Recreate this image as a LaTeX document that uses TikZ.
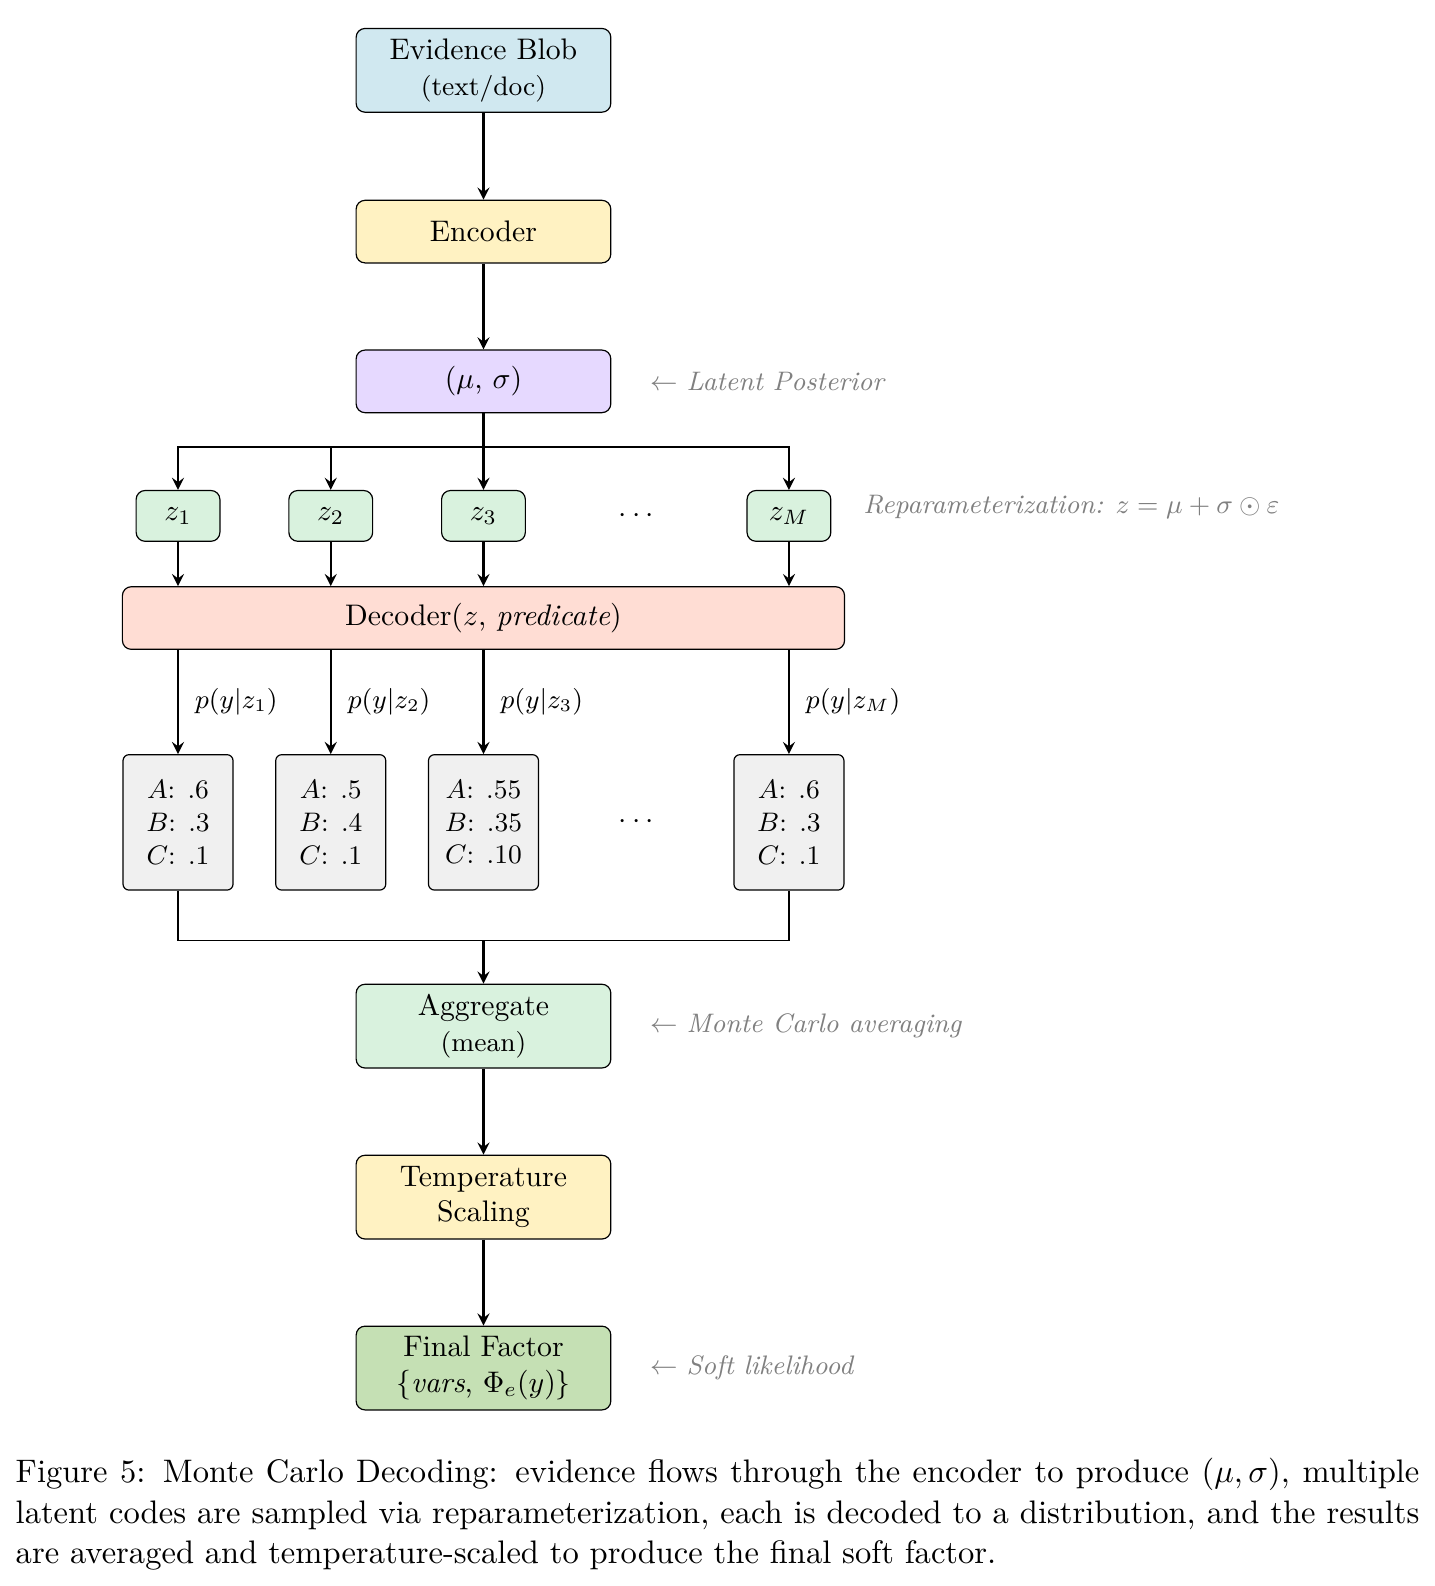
\documentclass[tikz,border=0pt]{standalone}
\usetikzlibrary{positioning,calc}
\definecolor{blobblue}{HTML}{D0E8F0}
\definecolor{encyellow}{HTML}{FFF2C2}
\definecolor{postviolet}{HTML}{E6D9FF}
\definecolor{codegreen}{HTML}{D9F2DE}
\definecolor{decsalmon}{HTML}{FFDDD4}
\definecolor{distgray}{HTML}{F0F0F0}
\definecolor{factorgreen}{HTML}{C5E0B4}
\begin{document}
\begin{tikzpicture}[>=stealth,
	box/.style={draw,rounded corners=3pt,align=center,inner sep=2pt,minimum width=3.01cm},
	tallbox/.style={box,minimum height=0.99cm},
	flatbox/.style={box,minimum height=0.74cm},
	zbox/.style={draw,rounded corners=3pt,fill=codegreen,minimum width=0.99cm,minimum height=0.6cm},
	distbox/.style={draw,rounded corners=2pt,fill=distgray,align=center,font=\small,minimum width=1.3cm,minimum height=1.6cm},
	note/.style={anchor=west,inner sep=0pt,text=gray,font=\small},
	flow/.style={->,thick}]
	\useasboundingbox (0,0) rectangle (16.951,-18.744);
	% main column
	\node[tallbox,fill=blobblue] (blob) at (5.714,-0.831) {Evidence Blob\\{\small(text/doc)}};
	\node[flatbox,fill=encyellow] (enc) at (5.714,-2.737) {Encoder};
	\node[flatbox,fill=postviolet] (post) at (5.714,-4.507) {$(\mu$, $\sigma)$};
	\draw[flow] (blob) -- (enc);
	\draw[flow] (enc) -- (post);
	% samples
	\coordinate (bus) at (5.714,-5.284);
	\foreach \i/\x in {1/2.104,2/3.909,3/5.714,M/9.324}
		\node[zbox] (z\i) at (\x,-6.097) {$z_{\i}$};
	\node (zdots) at (7.519,-6.097) {$\cdots$};
	\draw[thick] (post.south) -- (bus);
	\foreach \i in {1,2,3,M}
		\draw[flow] (bus) -| (z\i.north);
	% decoder
	\node[flatbox,fill=decsalmon,minimum width=8.535cm] (dec) at (5.714,-7.304) {Decoder($z$, \textit{predicate})};
	\foreach \i in {1,2,3,M}
		\draw[flow] (z\i.south) -- (z\i.south |- dec.north);
	% distributions
	\foreach \i/\x/\pa/\pb/\pc in {1/2.104/.6/.3/.1,2/3.909/.5/.4/.1,3/5.714/.55/.35/.10,M/9.324/.6/.3/.1}{
		\node[distbox] (d\i) at (\x,-9.719) {$A$: \pa\\ $B$: \pb\\ $C$: \pc};
		\draw[flow] (d\i.north |- dec.south) -- node[right=2pt,font=\small]{$p(y|z_{\i})$} (d\i.north);
	}
	\node (ddots) at (7.519,-9.719) {$\cdots$};
	% aggregation
	\coordinate (merge) at (5.714,-11.117);
	\draw (d1.south) |- (merge) -| (dM.south);
	\node[tallbox,fill=codegreen] (agg) at (5.714,-12.127) {Aggregate\\{\small(mean)}};
	\node[tallbox,fill=encyellow] (temp) at (5.714,-14.148) {Temperature\\Scaling};
	\node[tallbox,fill=factorgreen] (fin) at (5.714,-16.168) {Final Factor\\$\{$\textit{vars}, $\Phi_e(y)\}$};
	\draw[flow] (merge) -- (agg);
	\draw[flow] (agg) -- (temp);
	\draw[flow] (temp) -- (fin);
	% side notes
	\node[note] (postnote) at (7.675,-4.507) {$\leftarrow$ \textit{Latent Posterior}};
	\node[note] (zinote) at (10.197,-5.99) {\textit{Reparameterization:} $z=\mu+\sigma\odot\varepsilon$};
	\node[note] (aggnote) at (7.675,-12.127) {$\leftarrow$ \textit{Monte Carlo averaging}};
	\node[note] (finnote) at (7.675,-16.168) {$\leftarrow$ \textit{Soft likelihood}};
	% caption
	\node[anchor=north west,inner sep=0pt,text width=472pt,align=justify,font=\fontsize{10.95}{13.6}\selectfont] (cap) at (0.179,-17.23) {Figure 5: Monte Carlo Decoding: evidence flows through the encoder to produce $(\mu,\sigma)$, multiple latent codes are sampled via reparameterization, each is decoded to a distribution, and the results are averaged and temperature-scaled to produce the final soft factor.};
\end{tikzpicture}
\end{document}
